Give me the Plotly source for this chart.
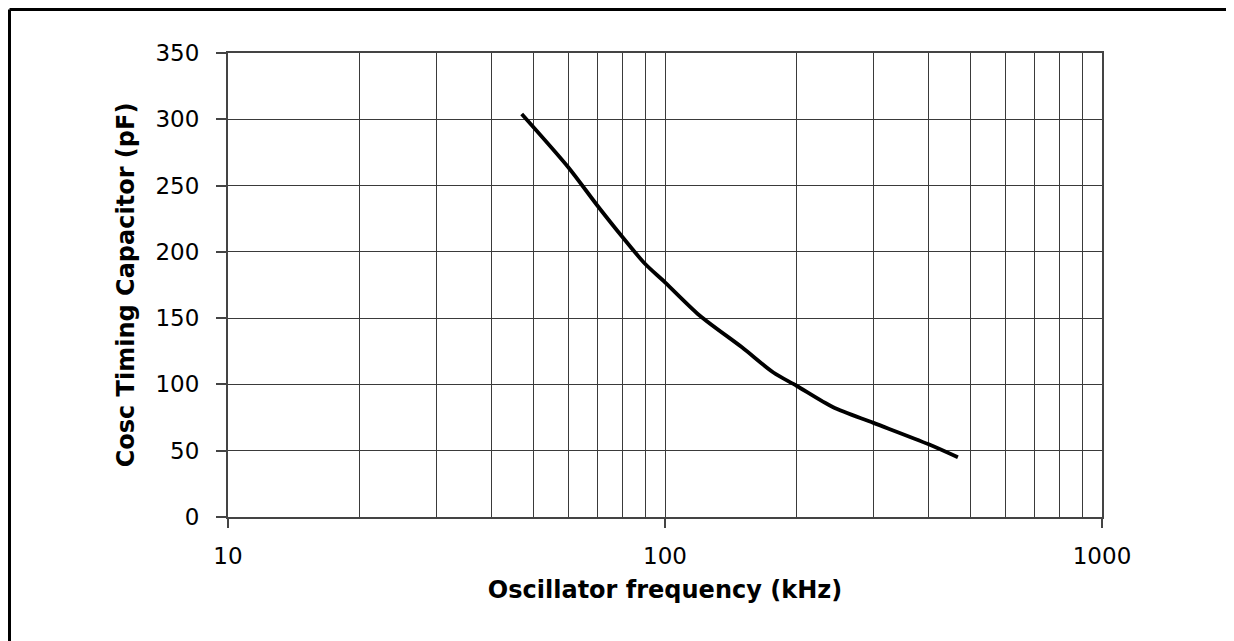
import plotly.graph_objects as go

# curve (kHz, pF)
freq_khz = [47, 60, 70, 80, 90, 100, 120, 150, 177, 200, 242, 300, 400, 468]
cap_pf = [304, 264, 235, 211, 191, 177, 152, 128, 109, 99, 83, 71, 55, 45]

x_major = [10, 100, 1000]
x_minor = [20, 30, 40, 50, 60, 70, 80, 90, 200, 300, 400, 500, 600, 700, 800, 900]
y_ticks = [0, 50, 100, 150, 200, 250, 300, 350]

FONT = "DejaVu Sans, Arial, sans-serif"
GRID = "#3a3a3a"

fig = go.Figure(go.Scatter(
    x=freq_khz, y=cap_pf,
    mode="lines",
    line=dict(color="black", width=3.8, shape="spline", smoothing=0.8),
    showlegend=False,
))

fig.update_layout(
    width=1234, height=641,
    margin=dict(l=220, r=140, t=45, b=132),
    paper_bgcolor="white",
    plot_bgcolor="white",
    font=dict(family=FONT, color="black"),
    shapes=[
        # outer frame of the figure (left and top edges visible)
        dict(type="line", xref="paper", yref="paper",
             x0=-0.25, x1=-0.25, y0=1.0937, y1=-0.40,
             line=dict(color="black", width=3)),
        dict(type="line", xref="paper", yref="paper",
             x0=-0.25, x1=1.2, y0=1.0937, y1=1.0937,
             line=dict(color="black", width=3)),
    ],
)

fig.update_xaxes(
    type="log",
    range=[1, 3],
    tickvals=x_major,
    ticktext=[str(v) for v in x_major],
    ticks="outside", ticklen=9, tickcolor="#444", tickwidth=1.5,
    ticklabelstandoff=8,
    tickfont=dict(size=23, family=FONT, color="black"),
    showgrid=True, gridcolor=GRID, gridwidth=1,
    minor=dict(tickvals=x_minor, showgrid=True, gridcolor=GRID, gridwidth=1, ticks=""),
    showline=True, linecolor="#444", linewidth=2, mirror=True,
    zeroline=False,
    title=dict(text="<b>Oscillator frequency (kHz)</b>",
               font=dict(size=24, family=FONT, color="black"), standoff=14),
)

fig.update_yaxes(
    range=[0, 350],
    tickvals=y_ticks,
    ticks="outside", ticklen=10, tickcolor="#444", tickwidth=1.5,
    ticklabelstandoff=12,
    tickfont=dict(size=23, family=FONT, color="black"),
    showgrid=True, gridcolor=GRID, gridwidth=1,
    showline=True, linecolor="#444", linewidth=2, mirror=True,
    zeroline=False,
    title=dict(text="<b>Cosc Timing Capacitor (pF)</b>",
               font=dict(size=24, family=FONT, color="black"), standoff=14),
)

fig.write_html("out.html")
